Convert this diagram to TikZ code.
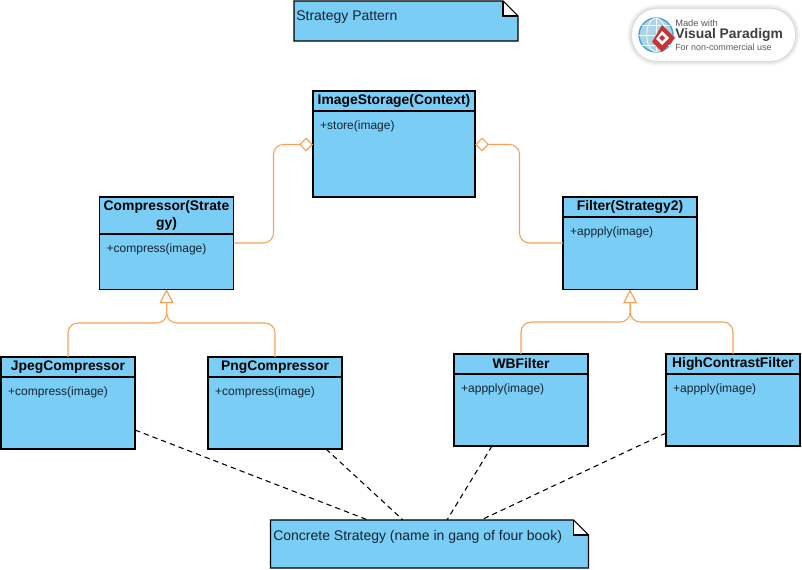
\documentclass[tikz,border=0pt]{standalone}
\usepackage{fontspec}
\setmainfont{Liberation Sans}
\usetikzlibrary{arrows.meta, positioning}
\definecolor{classcolor}{RGB}{122, 206, 245}
\definecolor{linkcolor}{RGB}{250, 160, 85}
\definecolor{textcolor}{RGB}{20, 35, 50}
\definecolor{markcolor}{RGB}{90, 90, 95}
\definecolor{globecolor}{RGB}{70, 160, 205}
\definecolor{brandcolor}{RGB}{200, 50, 50}
\tikzset{
    classhead/.style={draw, line width=0.8pt, fill=classcolor, outer sep=0pt, inner sep=0pt, align=center, font=\bfseries\fontsize{10.4}{12.75}\selectfont, text=black},
    classbody/.style={draw, line width=0.8pt, fill=classcolor, outer sep=0pt, inner sep=0pt},
    optext/.style={anchor=north west, inner xsep=5.2pt, inner ysep=7pt, font=\fontsize{9}{10}\selectfont, text=textcolor},
    notebody/.style={fill=classcolor, outer sep=0pt, inner sep=0pt, anchor=north west},
    notetext/.style={anchor=west, inner sep=0pt, font=\fontsize{10.5}{12}\selectfont, text=textcolor},
    implements/.style={linkcolor, thick, rounded corners=7.5pt, -{Triangle[open, fill=white, length=10.25pt, width=10.25pt]}},
    aggregates/.style={linkcolor, thick, rounded corners=7.5pt, -{Diamond[open, fill=white, length=10.5pt, width=10.5pt]}},
    notelink/.style={dashed, thick, dash pattern=on 4pt off 3pt},
}
\newcommand{\notefold}[1]{%
    \fill[white] (#1.north east) -- ([xshift=-11.25pt]#1.north east) -- ([xshift=-11.25pt, yshift=-11.25pt]#1.north east) -- ([yshift=-11.25pt]#1.north east) -- cycle;
    \draw[line width=0.8pt] (#1.north west) -- ([xshift=-11.25pt]#1.north east) -- ([yshift=-11.25pt]#1.north east) -- (#1.south east) -- (#1.south west) -- cycle;
    \draw[line width=0.8pt] ([xshift=-11.25pt]#1.north east) -- ([xshift=-11.25pt, yshift=-11.25pt]#1.north east) -- ([yshift=-11.25pt]#1.north east);
}
\begin{document}
\begin{tikzpicture}[x=0.75pt, y=-0.75pt]
    \useasboundingbox (0,0) rectangle (802,570);

    % Watermark
    \foreach \w/\o in {7pt/0.04, 4.5pt/0.05, 2pt/0.06}
        \draw[black, opacity=\o, line width=\w, rounded corners=19pt] (632,9) rectangle (795,61);
    \fill[white, rounded corners=19pt] (632,9) rectangle (795,61);
    \fill[globecolor!45!white] (656,35) circle (12.75pt);
    \draw[globecolor, line width=1pt] (656,35) circle (12.75pt);
    \draw[white, line width=0.6pt] (656,18) -- (656,52) (639,35) -- (673,35) (642,25) -- (670,25) (642,45) -- (670,45);
    \draw[white, line width=0.6pt] (656,35) ellipse (7pt and 12.75pt);
    \fill[brandcolor] (662,25) -- (675,38) -- (662,52) -- (652,42) -- cycle;
    \fill[white] (662,31) -- (669,38) -- (662,45) -- (656,39) -- cycle;
    \fill[brandcolor] (662,35) -- (665,38) -- (662,41) -- (659,38) -- cycle;
    \node[anchor=west, inner sep=0pt, text=markcolor, font=\fontsize{7}{8}\selectfont] (madewith) at (675,23) {Made with};
    \node[anchor=west, inner sep=0pt, text=markcolor!70!black, font=\bfseries\fontsize{10.4}{12}\selectfont] (vpname) at (675,35) {Visual Paradigm};
    \node[anchor=west, inner sep=0pt, text=markcolor, font=\fontsize{6.7}{8}\selectfont] (noncommercial) at (675,47) {For non-commercial use};

    % Notes
    \node[notebody, minimum width=168pt, minimum height=30pt] (patternnote) at (294,1) {};
    \notefold{patternnote}
    \node[notetext] (patterntext) at (296,17.5) {Strategy Pattern};
    \node[notebody, minimum width=238.5pt, minimum height=36pt] (concretenote) at (270.5,520) {};
    \notefold{concretenote}
    \node[notetext] (concretetext) at (273,536.5) {Concrete Strategy (name in gang of four book)};

    % Context class
    \node[classhead, minimum width=121.5pt, minimum height=15pt, anchor=north west] (imagestoragehead) at (313,91) {ImageStorage(Context)};
    \node[classbody, minimum width=121.5pt, minimum height=64.5pt, below=0pt of imagestoragehead] (imagestorage) {};
    \node[optext] (imagestorageop) at (imagestorage.north west) {+store(image)};

    % Strategy classes
    \node[classhead, minimum width=100.5pt, minimum height=27.75pt, anchor=north west] (compressorhead) at (99.5,197) {Compressor(Strate\\gy)};
    \node[classbody, minimum width=100.5pt, minimum height=41.5pt, below=0pt of compressorhead] (compressor) {};
    \node[optext] (compressorop) at (compressor.north west) {+compress(image)};
    \node[classhead, minimum width=100.5pt, minimum height=15pt, anchor=north west] (filterhead) at (563,197) {Filter(Strategy2)};
    \node[classbody, minimum width=100.5pt, minimum height=54.4pt, below=0pt of filterhead] (filter) {};
    \node[optext] (filterop) at (filter.north west) {+appply(image)};

    % Concrete classes
    \node[classhead, minimum width=100.5pt, minimum height=15pt, anchor=north west] (jpeghead) at (1,357) {JpegCompressor};
    \node[classbody, minimum width=100.5pt, minimum height=54pt, below=0pt of jpeghead] (jpeg) {};
    \node[optext] (jpegop) at (jpeg.north west) {+compress(image)};
    \node[classhead, minimum width=100.5pt, minimum height=15pt, anchor=north west] (pnghead) at (208,357) {PngCompressor};
    \node[classbody, minimum width=100.5pt, minimum height=54pt, below=0pt of pnghead] (png) {};
    \node[optext] (pngop) at (png.north west) {+compress(image)};
    \node[classhead, minimum width=100.5pt, minimum height=15pt, anchor=north west] (wbhead) at (454,354) {WBFilter};
    \node[classbody, minimum width=100.5pt, minimum height=54pt, below=0pt of wbhead] (wb) {};
    \node[optext] (wbop) at (wb.north west) {+appply(image)};
    \node[classhead, minimum width=100.5pt, minimum height=15pt, anchor=north west] (contrasthead) at (666,354) {HighContrastFilter};
    \node[classbody, minimum width=100.5pt, minimum height=54pt, below=0pt of contrasthead] (contrast) {};
    \node[optext] (contrastop) at (contrast.north west) {+appply(image)};

    % Connector ends
    \coordinate (compressorout) at (233.5,243);
    \coordinate (compressorin) at (313,144.5);
    \coordinate (filterout) at (563,243);
    \coordinate (filterin) at (475,144.5);
    \coordinate (compressorjoin) at (166.75,323);
    \coordinate (filterjoin) at (630.25,322);
    \coordinate (jpegnote) at (135,430);
    \coordinate (pngnote) at (326,449);
    \coordinate (wbnote) at (492,446);
    \coordinate (contrastnote) at (666,433);
    \coordinate (notejpeg) at (368,520);
    \coordinate (notepng) at (403,520);
    \coordinate (notewb) at (447,520);
    \coordinate (notecontrast) at (481,520);

    % Aggregations
    \draw[aggregates] (compressorout) -- (273.5,243) -- (273.5,144.5) -- (compressorin);
    \draw[aggregates] (filterout) -- (519.5,243) -- (519.5,144.5) -- (filterin);

    % Generalizations
    \draw[implements] (jpeghead.north) |- (compressorjoin) -- (compressor.south);
    \draw[implements] (pnghead.north) |- (compressorjoin) -- (compressor.south);
    \draw[implements] (wbhead.north) |- (filterjoin) -- (filter.south);
    \draw[implements] (contrasthead.north) |- (filterjoin) -- (filter.south);

    % Note links
    \draw[notelink] (jpegnote) -- (notejpeg);
    \draw[notelink] (pngnote) -- (notepng);
    \draw[notelink] (wbnote) -- (notewb);
    \draw[notelink] (contrastnote) -- (notecontrast);
\end{tikzpicture}
\end{document}
